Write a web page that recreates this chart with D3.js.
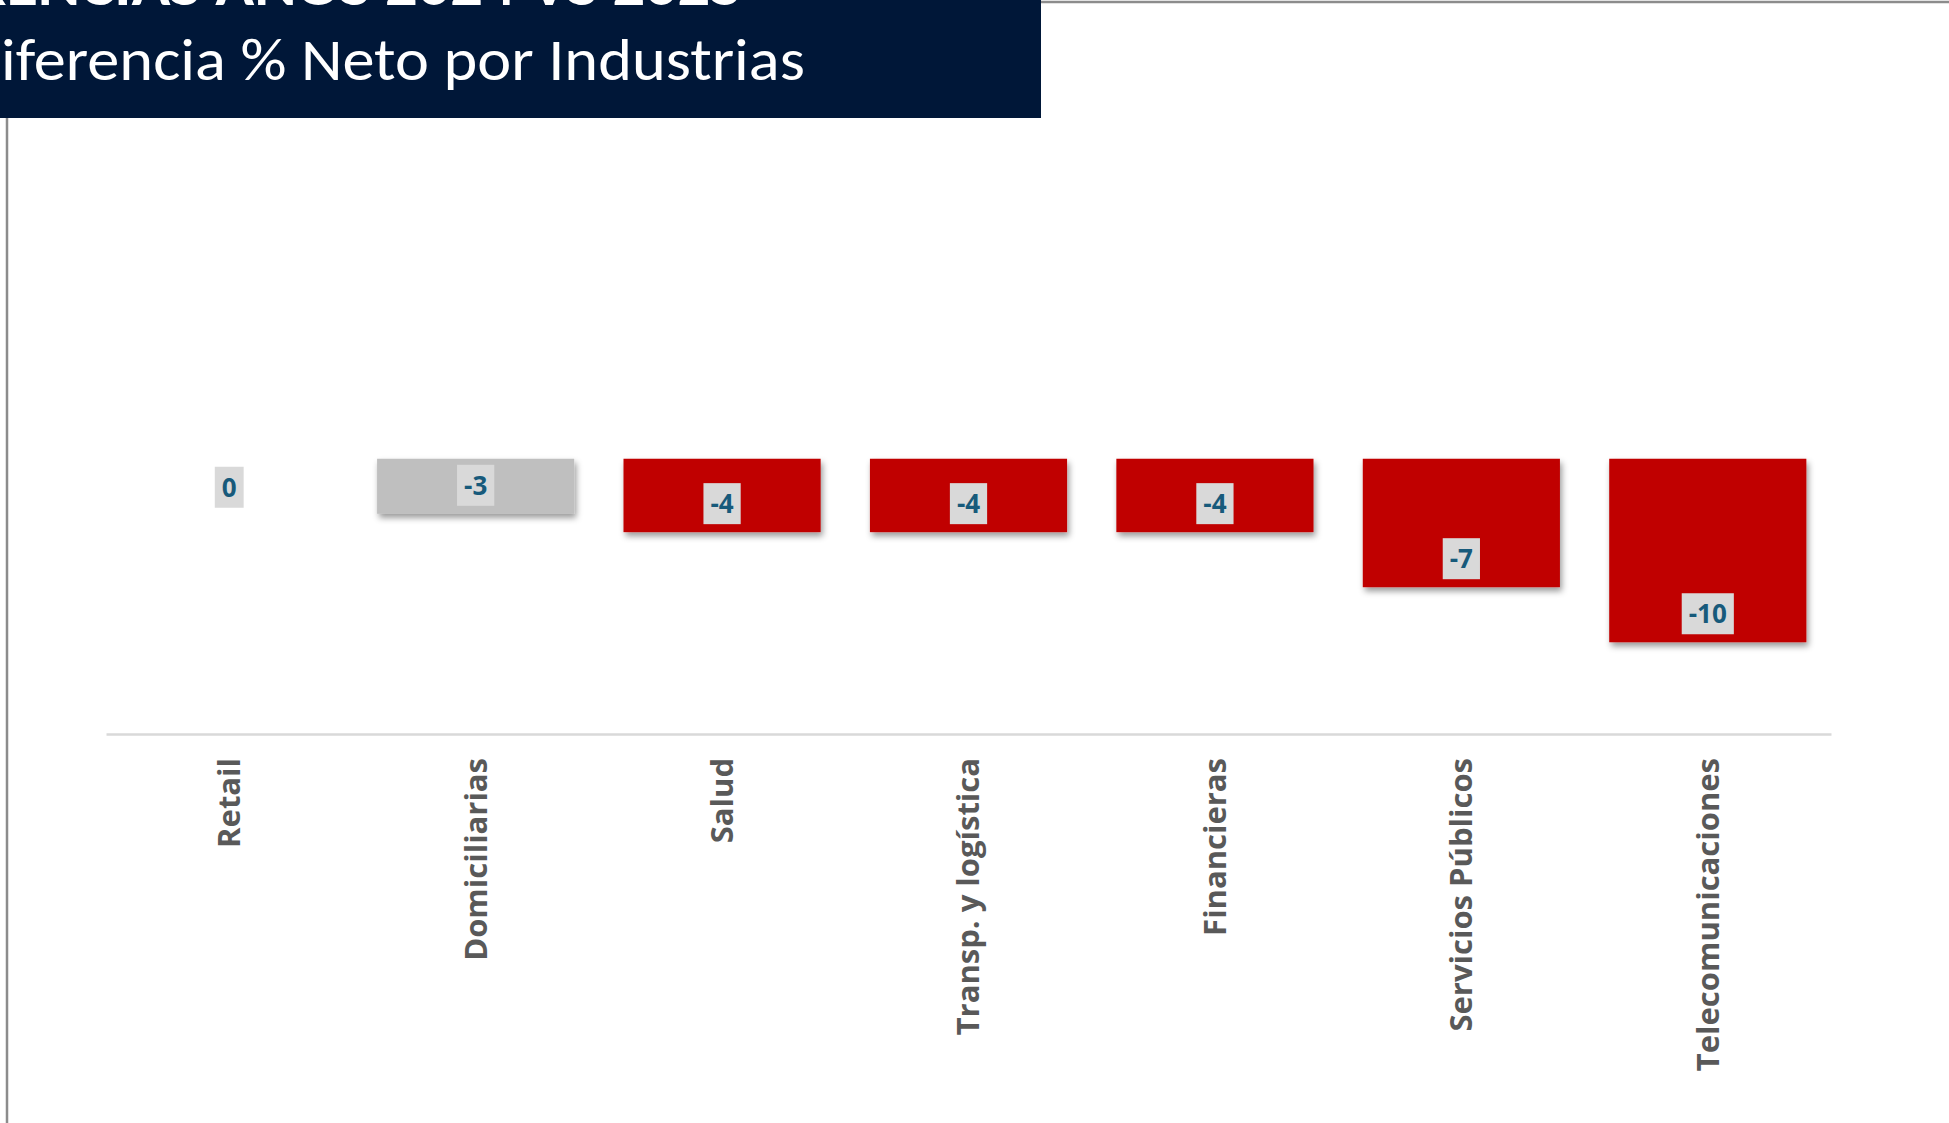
<!DOCTYPE html>
<html>
<head>
<meta charset="utf-8">
<script src="https://cdn.jsdelivr.net/npm/d3@7"></script>
<style>
  html, body { margin: 0; padding: 0; background: #fff; }
  svg { display: block; }
</style>
</head>
<body>
<div id="chart"></div>
<script>
// data
const categories = ["Retail", "Domiciliarias", "Salud", "Transp. y logística", "Financieras", "Servicios Públicos", "Telecomunicaciones"];
const values = [0, -3, -4, -4, -4, -7, -10];
const titleTop = "DIFERENCIAS AÑOS 2024 VS 2025";
const titleMain = "Diferencia % Neto por Industrias";

const W = 1949, H = 1123;
const svg = d3.select("#chart").append("svg")
  .attr("width", W)
  .attr("height", H);

const defs = svg.append("defs");
const f = defs.append("filter").attr("id", "shadow")
  .attr("x", "-10%").attr("y", "-10%").attr("width", "130%").attr("height", "140%");
f.append("feDropShadow")
  .attr("dx", 2).attr("dy", 4).attr("stdDeviation", 3)
  .attr("flood-color", "#000").attr("flood-opacity", 0.4);

// outer border (mostly hidden behind the title box)
svg.append("rect")
  .attr("x", 7).attr("y", 2)
  .attr("width", W + 100).attr("height", H + 100)
  .attr("fill", "none")
  .attr("stroke", "#8c8c8c")
  .attr("stroke-width", 2.5);

// scales
const x = d3.scaleBand()
  .domain(categories)
  .range([106, 1831])
  .paddingInner(0.2)
  .paddingOuter(0.1);

const y = d3.scaleLinear()
  .domain([-15, 10])
  .range([734, 734 - 25 * 18.35]);

// horizontal axis line (crosses at the minimum)
const xAxis = svg.append("g")
  .attr("transform", "translate(0," + y(-15) + ")")
  .call(d3.axisBottom(x).tickSize(0).tickPadding(0));
xAxis.select(".domain")
  .attr("stroke", "#d9d9d9")
  .attr("stroke-width", 2.5);
xAxis.selectAll(".tick text")
  .attr("transform", "translate(0,24) rotate(-90)")
  .attr("text-anchor", "end")
  .attr("dy", "0.35em")
  .attr("x", 0).attr("y", 0)
  .style("font-family", "'Open Sans', sans-serif")
  .style("font-weight", 700)
  .style("font-size", "31px")
  .style("fill", "#595959");

// bars
const barColor = v => v <= -4 ? "#c00000" : "#bfbfbf";
svg.append("g")
  .selectAll("rect")
  .data(values.map((v, i) => ({ cat: categories[i], v })))
  .enter()
  .filter(d => d.v !== 0)
  .append("rect")
  .attr("x", d => x(d.cat))
  .attr("y", d => Math.min(y(0), y(d.v)))
  .attr("width", x.bandwidth())
  .attr("height", d => Math.abs(y(d.v) - y(0)))
  .attr("fill", d => barColor(d.v))
  .attr("filter", "url(#shadow)");

// data labels (inside end, grey box)
const labels = svg.append("g")
  .selectAll("g")
  .data(values.map((v, i) => ({ cat: categories[i], v })))
  .enter()
  .append("g");

labels.each(function (d) {
  const g = d3.select(this);
  const cx = x(d.cat) + x.bandwidth() / 2;
  const boxH = 41;
  const boxY = d.v < 0 ? y(d.v) - 8 - boxH : y(0) + 8;
  const rect = g.append("rect").attr("fill", "#d9d9d9");
  const t = g.append("text")
    .attr("x", cx)
    .attr("y", boxY + boxH / 2)
    .attr("dy", "0.36em")
    .attr("text-anchor", "middle")
    .style("font-family", "'Open Sans', sans-serif")
    .style("font-weight", 700)
    .style("font-size", "26px")
    .style("fill", "#175a7b")
    .text(String(d.v));
  const tw = t.node().getComputedTextLength();
  rect.attr("x", cx - tw / 2 - 7)
    .attr("y", boxY)
    .attr("width", tw + 14)
    .attr("height", boxH);
});

// title box
svg.append("rect")
  .attr("x", 0).attr("y", 0)
  .attr("width", 1041).attr("height", 118)
  .attr("fill", "#001738");

const tMain = svg.append("text")
  .style("font-family", "Carlito, 'Noto Sans', sans-serif")
  .style("font-size", "60px")
  .style("fill", "#fff")
  .text(titleMain);
const wD = tMain.node().getSubStringLength(0, 1);
const wAll = tMain.node().getComputedTextLength();
const s = (805 - 1) / (wAll - wD);
tMain.attr("transform", "translate(" + (1 - s * wD) + ",80) scale(" + s + ",1)");

const tTop = svg.append("text")
  .style("font-family", "Carlito, 'Noto Sans', sans-serif")
  .style("font-size", "60px")
  .style("font-weight", 700)
  .style("fill", "#fff")
  .text(titleTop);
const wTop = tTop.node().getComputedTextLength();
tTop.attr("transform", "translate(" + (743 - s * wTop) + ",5) scale(" + s + ",1)");
</script>
</body>
</html>
